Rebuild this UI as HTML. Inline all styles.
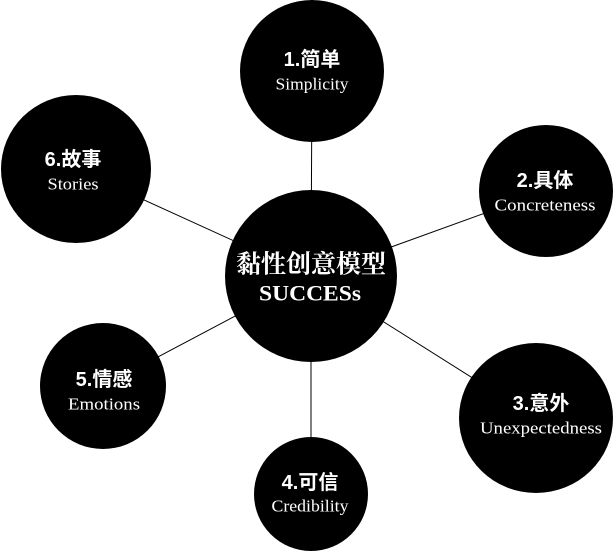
<!DOCTYPE html>
<html><head><meta charset="utf-8"><style>
html,body{margin:0;padding:0;background:#fff;}
svg{display:block;}
.t{font-family:"Liberation Sans","Noto Sans CJK SC",sans-serif;font-weight:bold;font-size:20px;fill:#fff;text-anchor:middle;dominant-baseline:central;}
.e{font-family:"Liberation Serif","Noto Serif CJK SC",serif;font-size:17px;fill:#fff;text-anchor:middle;dominant-baseline:central;}
.c{font-family:"Liberation Serif","Noto Serif CJK SC",serif;font-weight:bold;fill:#fff;text-anchor:middle;dominant-baseline:central;}
</style></head><body>
<svg width="613" height="551" viewBox="0 0 613 551" xmlns="http://www.w3.org/2000/svg">
<g stroke="#000" stroke-width="1">
<line x1="311" y1="276" x2="312" y2="71"/>
<line x1="311" y1="276" x2="546" y2="191"/>
<line x1="311" y1="276" x2="536" y2="418"/>
<line x1="311" y1="276" x2="311" y2="494"/>
<line x1="311" y1="276" x2="103" y2="386"/>
<line x1="311" y1="276" x2="76" y2="169"/>
</g>
<ellipse cx="312" cy="71" rx="72" ry="71"/>
<ellipse cx="311" cy="276" rx="86" ry="86"/>
<ellipse cx="546" cy="191" rx="67" ry="66"/>
<ellipse cx="536" cy="418" rx="77" ry="75"/>
<ellipse cx="311" cy="494" rx="57" ry="57"/>
<ellipse cx="103" cy="386" rx="63" ry="63"/>
<ellipse cx="76" cy="169" rx="75" ry="74"/>
<text class="t" x="312" y="60">1.简单</text><text class="e" x="312" y="84" textLength="73" lengthAdjust="spacingAndGlyphs">Simplicity</text>
<text class="t" x="545" y="181">2.具体</text><text class="e" x="545" y="205" textLength="101" lengthAdjust="spacingAndGlyphs">Concreteness</text>
<text class="t" x="541" y="404">3.意外</text><text class="e" x="541" y="428" textLength="122" lengthAdjust="spacingAndGlyphs">Unexpectedness</text>
<text class="t" x="310" y="483">4.可信</text><text class="e" x="310" y="506" textLength="77" lengthAdjust="spacingAndGlyphs">Credibility</text>
<text class="t" x="104" y="380">5.情感</text><text class="e" x="104" y="404" textLength="72" lengthAdjust="spacingAndGlyphs">Emotions</text>
<text class="t" x="73" y="160">6.故事</text><text class="e" x="73" y="184" textLength="51" lengthAdjust="spacingAndGlyphs">Stories</text>
<text class="c" x="311" y="265" font-size="25">黏性创意模型</text>
<text class="c" x="310" y="293" font-size="22" textLength="102" lengthAdjust="spacingAndGlyphs">SUCCESs</text>
</svg>
</body></html>
